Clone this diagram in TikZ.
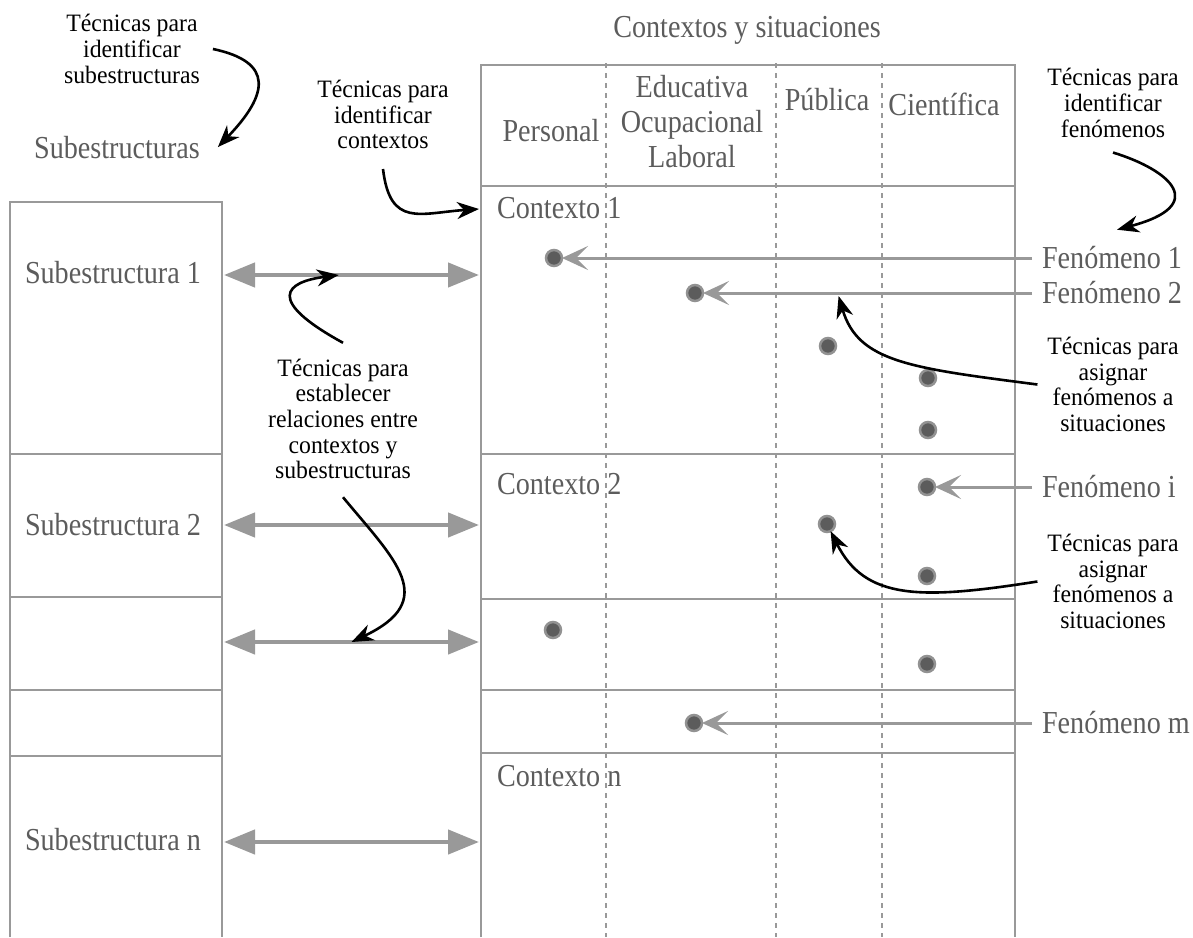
\documentclass[tikz,border=0pt]{standalone}
\usepackage{fontspec}
\setmainfont{Liberation Serif}
\newfontfamily\grayfont[FakeStretch=0.88]{Liberation Serif}
\newfontfamily\labelfont[FakeStretch=0.95]{Liberation Serif}
\usetikzlibrary{arrows.meta}

\definecolor{linegray}{HTML}{999999}
\definecolor{textgray}{HTML}{5C5C5C}
\definecolor{dotfill}{HTML}{5C5C5C}
\definecolor{dotring}{HTML}{929292}

\begin{document}
\begin{tikzpicture}[x=1pt, y=-1pt, every node/.style={outer sep=0pt},
    gtext/.style={text=textgray, inner sep=0pt, font=\grayfont\fontsize{32}{35}\selectfont},
    btext/.style={align=center, inner sep=2pt, font=\labelfont\fontsize{25}{25.7}\selectfont},
    frame/.style={draw=linegray, line width=2.8pt},
    dotline/.style={draw=linegray, line width=2pt, dash pattern=on 5pt off 5pt},
    dot/.style={circle, fill=dotfill, draw=dotring, line width=2.5pt, minimum size=16pt, inner sep=0pt},
    twoway/.style={draw=linegray, line width=4.5pt, arrows={Triangle[length=31pt,width=24pt]-Triangle[length=31pt,width=24pt]}},
    fen/.style={draw=linegray, line width=3pt, -{Stealth[length=26pt,width=24pt,inset=12pt]}, shorten <=10pt},
    curv/.style={draw=black, line width=2.6pt, -{Stealth[length=22pt,width=17pt,inset=7pt]}}]
        \useasboundingbox (0,0) rectangle (1193,937);
        % subestructuras
        \draw[frame] (10,937) |- (222,202) -- (222,937);
        \foreach \y in {454,597,690,756} \draw[frame] (10,\y) -- (222,\y);
        % contextos y situaciones
        \draw[frame] (481,937) |- (1015,65) -- (1015,937);
        \foreach \y in {186,454,599,690,753} \draw[frame] (481,\y) -- (1015,\y);
        \foreach \x in {606,776,882} \draw[dotline] (\x,63) -- (\x,937);

        \node[gtext, anchor=base] (ctxsit) at (747,37) {Contextos y situaciones};
        \node[gtext, anchor=base] (subs) at (117,158) {Subestructuras};
        \node[gtext, anchor=base] (pers) at (551,141) {Personal};
        \node[gtext, align=center] (educ) at (692,122) {Educativa\\Ocupacional\\Laboral};
        \node[gtext, anchor=base] (publ) at (827,110) {Pública};
        \node[gtext, anchor=base] (cien) at (944,115) {Científica};

        \node[gtext, anchor=base west] (ctx1) at (497,218) {Contexto 1};
        \node[gtext, anchor=base west] (ctx2) at (497,494) {Contexto 2};
        \node[gtext, anchor=base west] (ctxn) at (497,786) {Contexto n};
        \node[gtext, anchor=base west] (sub1) at (25,283) {Subestructura 1};
        \node[gtext, anchor=base west] (sub2) at (25,535) {Subestructura 2};
        \node[gtext, anchor=base west] (subn) at (25,850) {Subestructura n};

        % situaciones de cada fenomeno
        \foreach \n/\x/\y in {1/554/258,2/695/293,3/828/346,4/928/378,5/928/430,6/927/487,
                              7/827/524,8/927/576,9/553/630,10/927/664,11/694/723}
            \node[dot] (d\n) at (\x,\y) {};

        \node[gtext, anchor=west] (f1) at (1042,258) {Fenómeno 1};
        \node[gtext, anchor=west] (f2) at (1042,293) {Fenómeno 2};
        \node[gtext, anchor=west] (fi) at (1042,487) {Fenómeno i};
        \node[gtext, anchor=west] (fm) at (1042,723) {Fenómeno m};
        \draw[fen] (f1.west) -- (d1);
        \draw[fen] (f2.west) -- coordinate[pos=.6] (f2m) (d2);
        \draw[fen] (fi.west) -- (d6);
        \draw[fen] (fm.west) -- (d11);

        \foreach \k/\y in {1/275,2/525,3/642,4/842} {
            \coordinate (s\k) at (224,\y);
            \coordinate (c\k) at (479,\y);
        }
        \draw[twoway] (s1) -- coordinate[pos=.45] (m1) (c1);
        \draw[twoway] (s2) -- (c2);
        \draw[twoway] (s3) -- coordinate[pos=.5] (m3) (c3);
        \draw[twoway] (s4) -- (c4);

        % etiquetas de tecnicas
        \node[btext] (tss) at (132,49) {Técnicas para\\identificar\\subestructuras};
        \node[btext] (tic) at (383,114.5) {Técnicas para\\identificar\\contextos};
        \node[btext] (tif) at (1113,103) {Técnicas para\\identificar\\fenómenos};
        \node[btext] (est) at (343,419) {Técnicas para\\establecer\\relaciones entre\\contextos y\\subestructuras};
        \node[btext] (asg1) at (1113,384.5) {Técnicas para\\asignar\\fenómenos a\\situaciones};
        \node[btext] (asg2) at (1113,581.5) {Técnicas para\\asignar\\fenómenos a\\situaciones};
        \coordinate (ctx1w) at (479,209);

        \draw[curv] ([xshift=11pt]tss.east) .. controls (275,62) and (268,95) .. ([xshift=18pt]subs.east);
        \draw[curv] ([yshift=-18pt]tic.south) .. controls (390,228) and (420,213) .. (ctx1w);
        \draw[curv] ([yshift=-13pt]tif.south) .. controls (1170,170) and (1210,205) .. ([xshift=5pt,yshift=17pt]f1.north);
        \draw[curv] ([yshift=14pt]est.north) .. controls (265,300) and (285,282) .. (m1);
        \draw[curv] ([yshift=-16pt]est.south) .. controls (395,560) and (440,600) .. (m3);
        \draw[curv] ([xshift=-8pt]asg1.west) .. controls (910,368) and (858,362) .. ([yshift=-3pt]f2m);
        \draw[curv] ([xshift=-8pt]asg2.west) .. controls (920,600) and (865,600) .. (d7);
    \end{tikzpicture}
\end{document}
